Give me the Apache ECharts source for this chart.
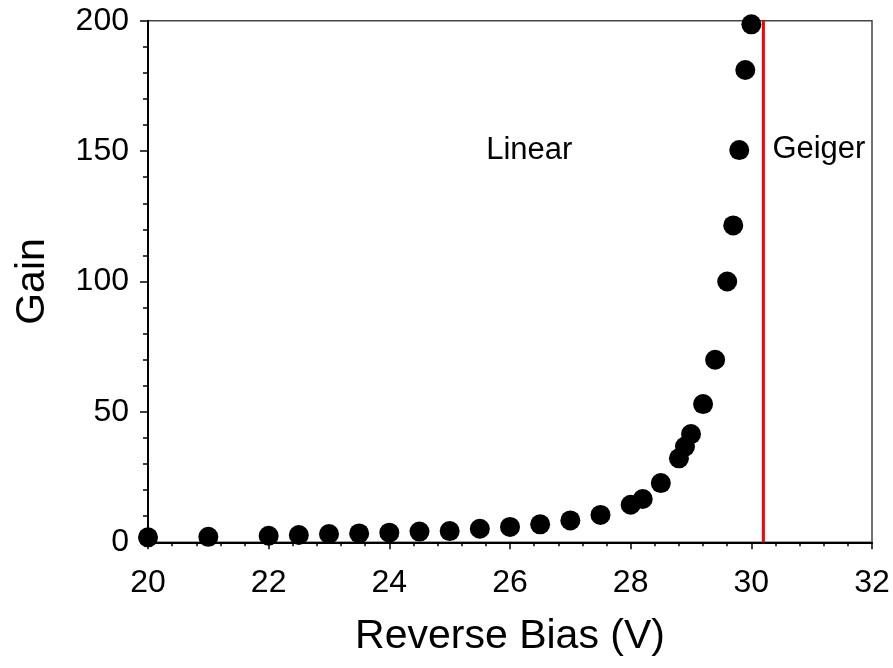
<!DOCTYPE html>
<html>
<head>
<meta charset="utf-8">
<script src="https://cdn.jsdelivr.net/npm/echarts@6/dist/echarts.min.js"></script>
<style>html,body{margin:0;padding:0;background:#fff;}#c{width:893px;height:668px;}</style>
</head>
<body>
<div id="c"></div>
<script>
const bias = [20, 21, 22, 22.5, 23, 23.5, 24, 24.5, 25, 25.5, 26, 26.5, 27, 27.5, 28, 28.2, 28.5, 28.8, 28.9, 29, 29.2, 29.4, 29.6, 29.7, 29.8, 29.9, 30];
const gain = [1.9, 2.1, 2.5, 2.8, 3.2, 3.4, 3.7, 4.1, 4.3, 5.2, 5.9, 6.9, 8.4, 10.5, 14.4, 16.6, 22.7, 32.2, 36.7, 41.5, 53, 70, 100, 121.5, 150.4, 181.1, 198.6];
const geigerBias = 30.2;
const gainRange = [0, 200];
const annoText = ['Linear', 'Geiger'];
const annoX = [26.32, 31.12];
const annoY = [150.4, 150.6];
const xTitle = 'Reverse Bias (V)';
const yTitle = 'Gain';

const font = '"Liberation Sans", Arial, sans-serif';
const chart = echarts.init(document.getElementById('c'), null, {renderer: 'canvas'});
chart.setOption({
  animation: false,
  backgroundColor: '#fff',
  grid: {left: 148, right: 21, top: 20.7, bottom: 125.7, containLabel: false,
         show: true, borderColor: '#444', borderWidth: 1.5, backgroundColor: 'transparent'},
  xAxis: {
    type: 'value', min: 20, max: 32, interval: 2,
    name: xTitle, nameLocation: 'middle', nameGap: 74,
    nameTextStyle: {fontFamily: font, fontSize: 41, color: '#000'},
    axisLine: {show: true, onZero: false, lineStyle: {color: '#000', width: 2}},
    axisTick: {show: true, length: 7, inside: false, lineStyle: {color: '#000', width: 1.5}},
    minorTick: {show: true, splitNumber: 5, length: 4, lineStyle: {color: '#000', width: 1.5}},
    splitLine: {show: false},
    axisLabel: {fontFamily: font, fontSize: 32, color: '#000', margin: 25}
  },
  yAxis: {
    type: 'value', min: gainRange[0], max: gainRange[1], interval: 50,
    name: yTitle, nameLocation: 'middle', nameGap: 95,
    nameTextStyle: {fontFamily: font, fontSize: 41, color: '#000'},
    axisLine: {show: true, onZero: false, lineStyle: {color: '#000', width: 2}},
    axisTick: {show: true, length: 8, lineStyle: {color: '#000', width: 1.5}},
    minorTick: {show: true, splitNumber: 5, length: 5, lineStyle: {color: '#000', width: 1.5}},
    splitLine: {show: false},
    axisLabel: {fontFamily: font, fontSize: 32, color: '#000', margin: 19}
  },
  series: [
    {
      type: 'line',
      data: [[geigerBias, gainRange[0]], [geigerBias, gainRange[1]]],
      showSymbol: false, symbol: 'none',
      lineStyle: {color: '#ff0000', width: 3, opacity: 1},
      z: 2
    },
    {
      type: 'scatter',
      data: bias.map((b, i) => [b, gain[i]]),
      symbol: 'circle', symbolSize: 20,
      itemStyle: {color: '#000', opacity: 1},
      z: 3
    },
    {
      type: 'scatter',
      data: annoText.map((t, i) => ({value: [annoX[i], annoY[i]], name: t})),
      symbolSize: 0,
      itemStyle: {opacity: 1},
      label: {show: true, position: 'inside', formatter: p => p.name,
              fontFamily: font, fontSize: 31, color: '#000', opacity: 1},
      silent: true,
      z: 4
    }
  ]
});
</script>
</body>
</html>
